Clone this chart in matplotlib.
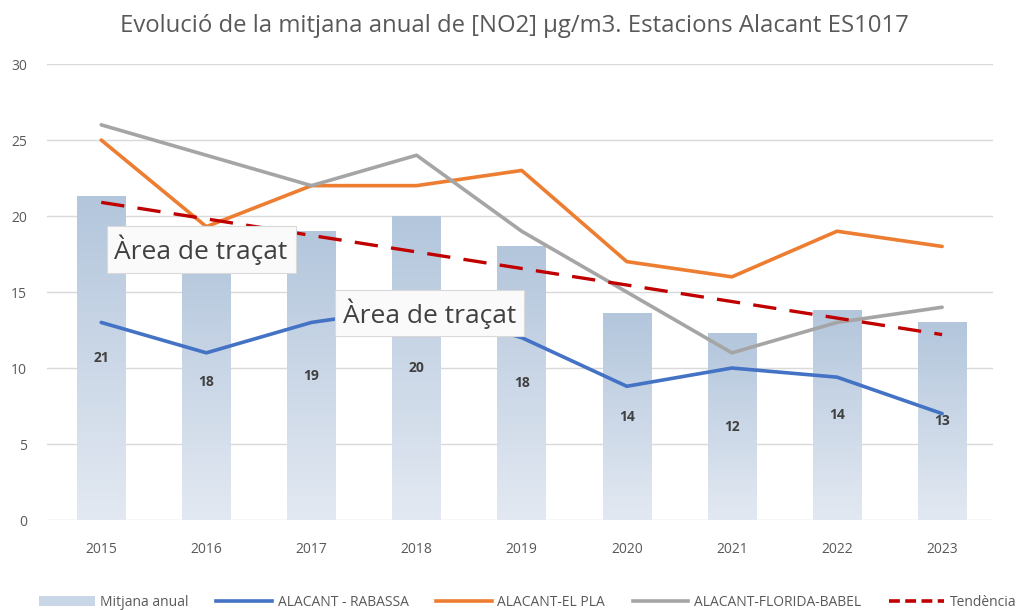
import numpy as np
import matplotlib.pyplot as plt
from matplotlib.lines import Line2D
from matplotlib.patches import Patch
from matplotlib.colors import LinearSegmentedColormap

years = ["2015", "2016", "2017", "2018", "2019", "2020", "2021", "2022", "2023"]
mitjana = [21.3, 18.1, 19.0, 20.0, 18.0, 13.6, 12.3, 13.8, 13.0]
rabassa = [13.0, 11.0, 13.0, 14.0, 12.0, 8.8, 10.0, 9.4, 7.0]
el_pla = [25.0, 19.3, 22.0, 22.0, 23.0, 17.0, 16.0, 19.0, 18.0]
florida = [26.0, 24.0, 22.0, 24.0, 19.0, 15.0, 11.0, 13.0, 14.0]
trend_ends = [20.9, 12.2]  # tendència a 2015 i 2023

TITLE = "Evolució de la mitjana anual de [NO2] µg/m3. Estacions Alacant ES1017"
FONT = ["Open Sans", "DejaVu Sans"]
plt.rcParams["font.family"] = FONT

fig = plt.figure(figsize=(10.35, 6.1), dpi=100)
ax = fig.add_axes([0.045, 0.1475, 0.914, 0.7475])

x = np.arange(len(years))
bars = ax.bar(x, mitjana, width=0.46, color="none", zorder=2)

# degradat dels barres
grad = np.linspace(0, 1, 256).reshape(-1, 1)
cmap = LinearSegmentedColormap.from_list("g", ["#e3e9f2", "#b3c6dc"])
for b in bars:
    im = ax.imshow(grad, cmap=cmap, origin="lower", aspect="auto",
                   extent=[b.get_x(), b.get_x() + b.get_width(), 0, b.get_height()],
                   zorder=2)
    im.set_clip_path(b)

ax.bar_label(bars, labels=[f"{v:.0f}" for v in mitjana], label_type="center",
             fontsize=10, fontweight="bold", color="#404040", zorder=5)

lw = 2.6
ax.plot(x, rabassa, color="#4472c4", lw=lw, zorder=3, solid_capstyle="round")
ax.plot(x, el_pla, color="#ed7d31", lw=lw, zorder=3, solid_capstyle="round")
ax.plot(x, florida, color="#a5a5a5", lw=lw, zorder=3, solid_capstyle="round")
ax.plot([x[0], x[-1]], trend_ends, color="#c00000", lw=2.4, ls=(0, (7, 4)), zorder=3)

ax.set_xlim(-0.52, 8.48)
ax.set_ylim(0, 30)
ax.set_yticks(range(0, 31, 5))
ax.set_xticks(x)
ax.set_xticklabels(years)
ax.tick_params(length=0, colors="#595959", labelsize=10)
ax.tick_params(axis="x", pad=16)
ax.tick_params(axis="y", pad=14)
ax.grid(axis="y", color="#d9d9d9", lw=1, zorder=0)
ax.set_axisbelow(True)
for s in ax.spines.values():
    s.set_visible(False)

fig.text(0.497, 0.957, TITLE, ha="center", va="center", fontsize=17.2, color="#595959")

box = dict(boxstyle="square,pad=0.3", fc="#fafafa", ec="#d9d9d9", lw=0.8)
ax.text(0.95, 17.8, "Àrea de traçat", ha="center", va="center", fontsize=19,
        color="#404040", bbox=box, zorder=6)
ax.text(3.12, 13.6, "Àrea de traçat", ha="center", va="center", fontsize=19,
        color="#404040", bbox=box, zorder=6)

handles = [
    Patch(facecolor="#c9d6e6", label="Mitjana anual"),
    Line2D([], [], color="#4472c4", lw=lw, label="ALACANT - RABASSA"),
    Line2D([], [], color="#ed7d31", lw=lw, label="ALACANT-EL PLA"),
    Line2D([], [], color="#a5a5a5", lw=lw, label="ALACANT-FLORIDA-BABEL"),
    Line2D([], [], color="#c00000", lw=lw, ls=(0, (3, 1.5)), label="Tendència"),
]
fig.legend(handles=handles, loc="center", bbox_to_anchor=(0.51, 0.013), ncol=5,
           frameon=False, fontsize=10, labelcolor="#595959", handlelength=4.0,
           columnspacing=2.0, handletextpad=0.4)

fig.savefig("out.png", dpi=100)
